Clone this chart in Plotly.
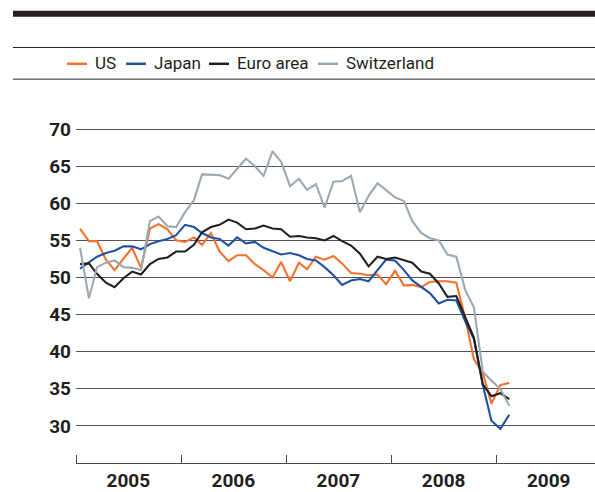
import pandas as pd
import plotly.graph_objects as go

# Monthly data, Jan 2005 - Feb 2009
months = pd.date_range("2005-01-01", periods=50, freq="MS") + pd.Timedelta(days=14)

us = [56.6, 54.9, 54.9, 52.4, 51.0, 52.5, 54.0, 51.3, 56.6, 57.2,
      56.5, 55.0, 54.8, 55.4, 54.4, 56.0, 53.5, 52.2, 53.0, 53.0,
      51.8, 51.0, 50.0, 52.1, 49.5, 52.0, 51.1, 52.8, 52.4, 52.9,
      51.9, 50.6, 50.5, 50.3, 50.4, 49.1, 50.9, 48.9, 49.0, 48.7,
      49.4, 49.5, 49.5, 49.3, 44.5, 39.0, 37.1, 33.0, 35.5, 35.8]

japan = [51.2, 52.0, 52.8, 53.3, 53.6, 54.2, 54.2, 53.8, 54.5, 54.9,
         55.2, 55.7, 57.1, 56.8, 56.0, 55.4, 55.2, 54.3, 55.4, 54.6,
         54.8, 54.0, 53.5, 53.1, 53.3, 53.0, 52.5, 52.3, 51.4, 50.3,
         49.0, 49.6, 49.8, 49.5, 51.0, 52.4, 52.3, 51.0, 49.6, 48.7,
         47.9, 46.5, 47.0, 46.9, 44.1, 41.7, 35.5, 30.7, 29.6, 31.5]

euro = [51.8, 51.9, 50.5, 49.3, 48.7, 49.9, 50.8, 50.4, 51.8, 52.5,
        52.7, 53.5, 53.5, 54.4, 56.1, 56.8, 57.1, 57.8, 57.4, 56.5,
        56.6, 57.0, 56.6, 56.5, 55.5, 55.6, 55.4, 55.3, 55.0, 55.6,
        54.9, 54.3, 53.2, 51.5, 52.8, 52.5, 52.7, 52.3, 52.0, 50.8,
        50.5, 49.2, 47.4, 47.5, 44.6, 41.9, 35.6, 34.0, 34.4, 33.6]

swiss = [54.0, 47.2, 51.4, 52.0, 52.3, 51.4, 51.3, 51.0, 57.6, 58.2,
         56.9, 56.8, 58.8, 60.4, 63.9, 63.9, 63.8, 63.3, 64.6, 66.0,
         65.0, 63.7, 67.0, 65.6, 62.3, 63.3, 61.8, 62.6, 59.4, 62.9,
         63.0, 63.7, 58.8, 61.0, 62.7, 61.8, 60.8, 60.3, 57.6, 56.0,
         55.3, 55.0, 53.1, 52.8, 48.3, 46.0, 37.3, 36.1, 35.0, 32.7]

years = ["2005", "2006", "2007", "2008", "2009"]
year_mid = [f"{y}-07-02" for y in years]
y_ticks = [30, 35, 40, 45, 50, 55, 60, 65, 70]

series_names = ["US", "Japan", "Euro area", "Switzerland"]
series_values = [us, japan, euro, swiss]
series_colors = ["#f4722b", "#1f52a3", "#231f20", "#9ca9b3"]

W, H = 595, 492
L, R, T, B = 76, 0, 92, 25
pw, ph = W - L - R, H - T - B

def px_x(x):
    return (x - L) / pw

def px_y(y):
    return (H - B - y) / ph

fig = go.Figure()
for name, vals, col in zip(series_names, series_values, series_colors):
    fig.add_trace(go.Scatter(x=months, y=vals, name=name, mode="lines",
                             line=dict(color=col, width=2.1), showlegend=False))

shapes = [
    dict(type="rect", xref="paper", yref="paper", x0=px_x(13), x1=1.0,
         y0=px_y(16), y1=px_y(10), fillcolor="#231f20", line=dict(width=0), layer="above"),
    dict(type="line", xref="paper", yref="paper", x0=px_x(13), x1=1.0,
         y0=px_y(47), y1=px_y(47), line=dict(color="#231f20", width=1)),
    dict(type="line", xref="paper", yref="paper", x0=px_x(13), x1=1.0,
         y0=px_y(79), y1=px_y(79), line=dict(color="#231f20", width=1)),
]

# legend (key) laid out as in the original
legend_dash_x = [67, 126, 209, 318]
annotations = []
for name, col, dx in zip(series_names, series_colors, legend_dash_x):
    shapes.append(dict(type="line", xref="paper", yref="paper",
                       x0=px_x(dx), x1=px_x(dx + 20), y0=px_y(63.5), y1=px_y(63.5),
                       line=dict(color=col, width=2.5)))
    annotations.append(dict(xref="paper", yref="paper", x=px_x(dx + 26), y=px_y(63),
                            text=name, showarrow=False, xanchor="left", yanchor="middle",
                            font=dict(family="Roboto", size=17, color="#231f20")))

tickfont = dict(family="Roboto", size=19, color="#231f20", weight="bold")

fig.update_layout(
    width=W, height=H,
    margin=dict(l=L, r=R, t=T, b=B, pad=0),
    paper_bgcolor="white", plot_bgcolor="white",
    shapes=shapes, annotations=annotations,
    showlegend=False,
    xaxis=dict(
        range=["2005-01-01", "2009-12-10"],
        tickmode="array", tickvals=year_mid, ticktext=years,
        ticks="", showgrid=False, zeroline=False,
        showline=True, linecolor="#4a4a4a", linewidth=1,
        tickfont=tickfont,
        minor=dict(tickmode="linear", tick0="2005-01-01", dtick="M12",
                   ticks="inside", ticklen=8, tickcolor="#4a4a4a", tickwidth=1,
                   showgrid=False),
    ),
    yaxis=dict(
        range=[25, 75], tickmode="array", tickvals=y_ticks,
        ticks="", showgrid=True, gridcolor="#555555", gridwidth=1,
        zeroline=False, showline=False, tickfont=tickfont,
        ticklabelstandoff=4,
    ),
)

fig.write_html("out.html", config={"displayModeBar": False},
               post_script="document.body.style.margin='0';document.body.style.padding='0';")
